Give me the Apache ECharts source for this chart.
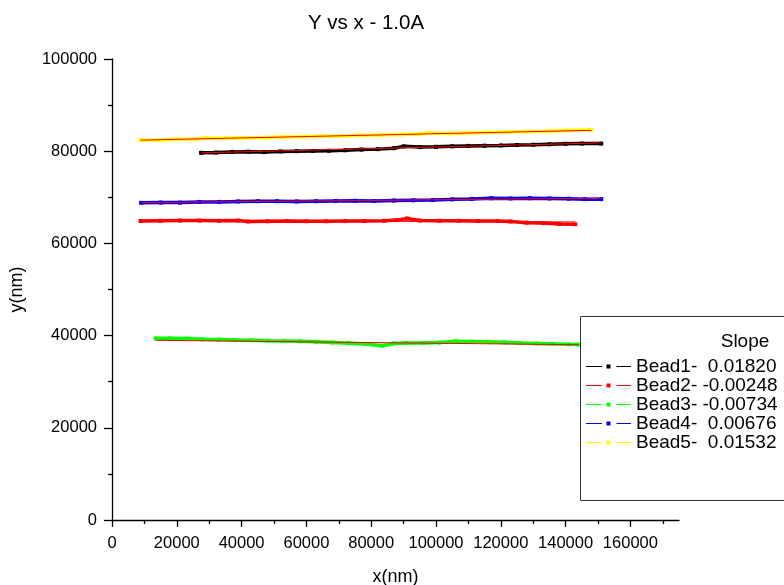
<!DOCTYPE html>
<html>
<head>
<meta charset="utf-8">
<script src="https://cdn.jsdelivr.net/npm/echarts@6/dist/echarts.min.js"></script>
<style>html,body{margin:0;padding:0;background:#fff;}#c{width:784px;height:585px;}</style>
</head>
<body>
<div id="c"></div>
<script>
// ---- data ----
const bead1X = [27500, 32000, 37000, 42000, 47000, 52000, 57000, 62000, 67000, 72000, 77000, 82000, 87000, 90000, 95000, 100000, 105000, 110000, 115000, 120000, 125000, 130000, 135000, 140000, 145000, 151000];
const bead1Y = [79650, 79700, 79850, 79900, 79800, 79950, 80000, 80050, 80100, 80200, 80350, 80450, 80650, 81050, 80900, 80950, 81050, 81150, 81200, 81250, 81350, 81400, 81500, 81600, 81650, 81650];
const fit1X = [27500, 151000];
const fit1Y = [79650, 81800];

const bead2X = [8800, 15000, 21000, 27000, 33000, 39000, 42000, 48000, 54000, 60000, 66000, 72000, 78000, 84000, 88000, 91000, 95000, 101000, 107000, 113000, 119000, 123000, 128000, 133000, 138000, 143000];
const bead2Y = [64850, 64900, 64950, 64950, 64900, 64950, 64750, 64800, 64850, 64800, 64800, 64850, 64850, 64900, 65050, 65400, 64950, 64900, 64900, 64850, 64850, 64750, 64500, 64400, 64200, 64150];
const fit2X = [8800, 143000];
const fit2Y = [64980, 64650];

const bead3X = [13500, 18000, 23000, 28000, 33000, 38000, 43000, 48000, 53000, 58000, 63000, 68000, 73000, 78000, 83500, 87000, 91000, 96000, 101000, 106000, 111000, 116000, 121000, 126000, 131000, 136000, 141000, 144000];
const bead3Y = [39400, 39400, 39350, 39200, 39150, 39050, 39000, 38900, 38850, 38750, 38650, 38500, 38350, 38200, 37800, 38300, 38400, 38400, 38500, 38800, 38700, 38650, 38550, 38400, 38300, 38200, 38100, 38050];
const fit3X = [13500, 144000];
const fit3Y = [38980, 38020];

const bead4X = [9000, 15000, 21000, 27000, 33000, 39000, 45000, 51000, 57000, 63000, 69000, 75000, 81000, 87000, 93000, 99000, 105000, 111000, 117000, 123000, 129000, 135000, 141000, 146000, 151000];
const bead4Y = [68800, 68850, 68850, 69000, 69000, 69100, 69150, 69150, 69100, 69150, 69200, 69250, 69200, 69300, 69350, 69400, 69550, 69650, 69800, 69750, 69800, 69750, 69700, 69600, 69600];
const fit4X = [9000, 151000];
const fit4Y = [68850, 69810];

const bead5X = [8800, 14000, 20000, 26000, 29000, 35000, 41000, 47000, 53000, 59000, 65000, 71000, 77000, 83000, 89000, 95000, 98000, 104000, 110000, 116000, 122000, 128000, 134000, 140000, 148000];
const bead5Y = [82400, 82450, 82600, 82650, 82850, 82800, 82900, 82950, 83100, 83150, 83250, 83300, 83450, 83500, 83600, 83750, 83950, 83850, 83950, 84050, 84150, 84250, 84350, 84500, 84650];
const fit5X = [8800, 148000];
const fit5Y = [82400, 84530];

const legendNames = ['Bead1-  0.01820', 'Bead2- -0.00248', 'Bead3- -0.00734', 'Bead4-  0.00676', 'Bead5-  0.01532'];
const beadColors = ['#000000', '#ff0000', '#00ff00', '#0000ff', '#ffff00'];

const xLabelTicks = [0, 20000, 40000, 60000, 80000, 100000, 120000, 140000, 160000];
const xMinorTicks = [10000, 30000, 50000, 70000, 90000, 110000, 130000, 150000, 170000];

// ---- chart ----
const FONT = 'Liberation Sans, Arial, sans-serif';
const zip = (xs, ys) => xs.map((x, i) => [x, ys[i]]);
const beads = [[bead1X, bead1Y], [bead2X, bead2Y], [bead3X, bead3Y], [bead4X, bead4Y], [bead5X, bead5Y]];
const fits = [[fit1X, fit1Y], [fit2X, fit2Y], [fit3X, fit3Y], [fit4X, fit4Y], [fit5X, fit5Y]];

const series = [];
beads.forEach((b, i) => {
  series.push({
    name: legendNames[i], type: 'line', data: zip(b[0], b[1]),
    symbol: 'rect', symbolSize: 4, showSymbol: true,
    lineStyle: { color: beadColors[i], width: 3.5 },
    itemStyle: { color: beadColors[i] },
    z: 2, animation: false
  });
});
fits.forEach((f, i) => {
  series.push({
    name: 'fit' + (i + 1), type: 'line', data: zip(f[0], f[1]),
    symbol: 'none', lineStyle: { color: '#ff0000', width: 1 },
    itemStyle: { color: '#ff0000' }, z: 3, animation: false
  });
});

const plain = v => String(v);
const legendIcon = 'path://M0,1.5H16V2.5H0Z M20.5,0H24.5V4H20.5Z M30.5,1.5H45V2.5H30.5Z';

const chart = echarts.init(document.getElementById('c'), null, { renderer: 'canvas' });
chart.setOption({
  animation: false,
  backgroundColor: '#ffffff',
  grid: { left: 112, right: 105, top: 59, bottom: 65, outerBoundsMode: 'none', containLabel: false },
  xAxis: [{
    type: 'value', position: 'bottom', min: 0, max: 175000,
    name: 'x(nm)', nameLocation: 'middle', nameGap: 48,
    nameTextStyle: { fontFamily: FONT, fontSize: 18, color: '#000' },
    axisLine: { show: true, onZero: false, lineStyle: { color: '#000', width: 1.3 } },
    axisTick: { show: true, length: 7, customValues: xLabelTicks, lineStyle: { color: '#000', width: 1.3 } },
    axisLabel: { show: true, customValues: xLabelTicks, formatter: plain, margin: 15, fontFamily: FONT, fontSize: 16.5, color: '#000' },
    splitLine: { show: false }
  }, {
    type: 'value', position: 'bottom', min: 0, max: 175000, offset: 0,
    axisLine: { show: false },
    axisTick: { show: true, length: 4, customValues: xMinorTicks, lineStyle: { color: '#000', width: 1.3 } },
    axisLabel: { show: false },
    splitLine: { show: false }
  }],
  yAxis: {
    type: 'value', min: 0, max: 100000, interval: 20000,
    name: 'y(nm)', nameLocation: 'middle', nameGap: 86,
    nameTextStyle: { fontFamily: FONT, fontSize: 18, color: '#000' },
    axisLine: { show: true, onZero: false, lineStyle: { color: '#000', width: 1.3 } },
    axisTick: { show: true, length: 8, lineStyle: { color: '#000', width: 1.3 } },
    minorTick: { show: true, splitNumber: 2, length: 4, lineStyle: { color: '#000', width: 1.3 } },
    axisLabel: { margin: 15, formatter: plain, fontFamily: FONT, fontSize: 16.5, color: '#000' },
    splitLine: { show: false }
  },
  legend: {
    data: legendNames.map((n, i) => ({
      name: n, icon: legendIcon,
      itemStyle: { color: beadColors[i], borderWidth: 0, opacity: 1 }
    })),
    orient: 'vertical', left: 586, top: 357, padding: 0,
    itemWidth: 45, itemHeight: 4, itemGap: 0,
    itemStyle: { borderWidth: 0 },
    lineStyle: { width: 0 },
    textStyle: { fontFamily: FONT, fontSize: 19, color: '#000', lineHeight: 18.3 },
    selectedMode: false, z: 100
  },
  graphic: [
    { type: 'text', x: 366, y: 23, z: 100,
      style: { text: 'Y vs x - 1.0A', fontFamily: FONT, fontSize: 20.5, fill: '#000', align: 'center', verticalAlign: 'middle' } },
    { type: 'rect', z: 50, shape: { x: 580.5, y: 316.5, width: 240, height: 184 },
      style: { fill: '#ffffff', stroke: '#333333', lineWidth: 1 } },
    { type: 'text', x: 745, y: 342, z: 100,
      style: { text: 'Slope', fontFamily: FONT, fontSize: 19, fill: '#000', align: 'center', verticalAlign: 'middle' } }
  ],
  series: series
});
</script>
</body>
</html>
